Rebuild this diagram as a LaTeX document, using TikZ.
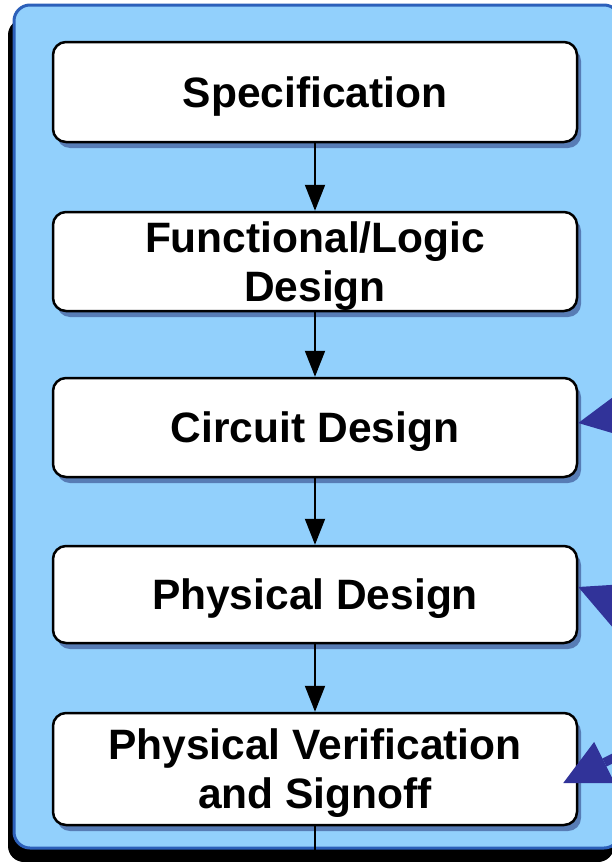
\documentclass[tikz,border=0pt]{standalone}
\usepackage{fontspec}
\setmainfont{Liberation Sans}
\usepackage{tikz}
\usetikzlibrary{arrows.meta,shadows}

\definecolor{panelblue}{RGB}{146,208,252}
\definecolor{panelrim}{RGB}{44,96,186}
\definecolor{tipblue}{RGB}{49,51,153}

\tikzset{
	stage/.style = {draw, line width = 2.5pt, fill = white, rounded corners = 13pt,
		minimum width = 524pt, align = center, text depth = 0pt,
		font = \bfseries\fontsize{42.5}{49}\selectfont,
		drop shadow = {shadow xshift = 4pt, shadow yshift = -6pt, fill = blue!30!black, opacity = 0.4}},
	flow/.style = {line width = 2pt, -{Triangle[length = 26pt, width = 20pt]}},
	feed/.style = {tipblue, line width = 9pt, -{Triangle[length = #1, width = #1, line width = 0pt]}},
	feed/.default = 50pt
}

\begin{document}
\begin{tikzpicture}[x = 1pt, y = -1pt]
		
		\useasboundingbox (0, 0) rectangle (612, 862);
		\clip (0, 0) rectangle (612, 862);
		
		\draw[panelrim, fill = panelblue, line width = 3pt, rounded corners = 16pt,
			drop shadow = {shadow xshift = -6pt, shadow yshift = -14pt, fill = black, opacity = 1}]
			(14, 5) rectangle (620, 848);
		
		\node[stage, minimum height = 100pt] (spec) at (315, 92) {Specification};
		\node[stage, minimum height = 99pt] (logic) at (315, 261.5) {Functional/Logic\\Design};
		\node[stage, minimum height = 99pt] (circuit) at (315, 427.5) {Circuit Design};
		\node[stage, minimum height = 97pt] (phys) at (315, 594.5) {Physical Design};
		\node[stage, minimum height = 112pt] (signoff) at (315, 769) {Physical Verification\\and Signoff};
		
		\draw[flow] (spec) -- (logic);
		\draw[flow] (logic) -- (circuit);
		\draw[flow] (circuit) -- (phys);
		\draw[flow] (phys) -- (signoff);
		
		\coordinate (exit) at (315, 880);
		\draw[line width = 2pt] (signoff) -- (exit);
		
		% arrows coming in from the right
		\coordinate (feedA) at (774, 388);
		\coordinate (feedB) at (761, 664.5);
		\coordinate (feedC) at (742, 694);
		\draw[feed = 56pt] (feedA) -- ([yshift = 4.5pt]circuit.east);
		\draw[feed = 60pt] (feedB) -- ([yshift = 7.5pt]phys.east);
		\draw[feed = 46pt] (feedC) -- ([xshift = -15pt, yshift = -14pt]signoff.east);
	\end{tikzpicture}
\end{document}
